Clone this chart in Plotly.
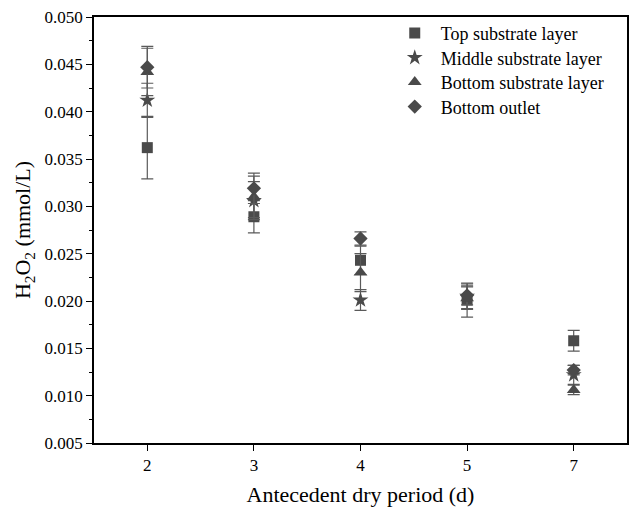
import plotly.graph_objects as go

categories = ["2", "3", "4", "5", "7"]
series_names = ["Top substrate layer", "Middle substrate layer", "Bottom substrate layer", "Bottom outlet"]
top_vals = [0.0362, 0.0289, 0.0243, 0.0201, 0.0158]
top_err = [0.0033, 0.0017, 0.0015, 0.0018, 0.0011]
mid_vals = [0.0412, 0.0306, 0.0201, 0.0205, 0.0122]
mid_err = [0.0018, 0.0020, 0.0011, 0.0013, 0.0010]
bot_vals = [0.0442, 0.0310, 0.0230, 0.0203, 0.0106]
bot_err = [0.0025, 0.0022, 0.0020, 0.0012, 0.0005]
out_vals = [0.0447, 0.0319, 0.0266, 0.0206, 0.0127]
out_err = [0.0022, 0.0016, 0.0007, 0.0010, 0.0005]

symbols = ["square", "star", "triangle-up", "diamond"]
sizes = [11, 12, 12, 11]
values = [top_vals, mid_vals, bot_vals, out_vals]
errors = [top_err, mid_err, bot_err, out_err]
legend_ids = ["legend", "legend2", "legend3", "legend4"]
legend_ys = [0.962, 0.904, 0.847, 0.789]

font_family = "Times New Roman, Liberation Serif, DejaVu Serif, serif"
mcolor = "#4a4a4a"

fig = go.Figure()
for name, sym, sz, v, e, lg in zip(series_names, symbols, sizes, values, errors, legend_ids):
    fig.add_trace(go.Scatter(
        x=categories, y=v, name=name, mode="markers", legend=lg,
        marker=dict(symbol=sym, size=sz, color=mcolor, line=dict(width=0)),
        error_y=dict(type="data", array=e, visible=True, color="#5a5a5a", thickness=1.2, width=6),
    ))

legend_common = dict(x=0.553, xanchor="left", yanchor="middle",
                     font=dict(family=font_family, size=18, color="black"),
                     bgcolor="rgba(0,0,0,0)", borderwidth=0, tracegroupgap=0,
                     itemwidth=42)
layout_legends = {}
for lg, ly in zip(legend_ids, legend_ys):
    layout_legends[lg] = dict(legend_common, y=ly)

fig.update_layout(
    width=634, height=508,
    margin=dict(l=94, r=5, t=17, b=64),
    paper_bgcolor="white", plot_bgcolor="white",
    font=dict(family=font_family, size=17, color="black"),
    showlegend=True,
    xaxis=dict(
        type="category", categoryorder="array", categoryarray=categories,
        range=[-0.5, 4.5],
        title=dict(text="Antecedent dry period (d)", font=dict(family=font_family, size=22), standoff=12),
        showline=True, linecolor="black", linewidth=1.5, mirror=True,
        ticks="outside", ticklen=6, tickwidth=1.2, tickcolor="black",
        showgrid=False, zeroline=False,
        tickfont=dict(family=font_family, size=17),
    ),
    yaxis=dict(
        range=[0.005, 0.050],
        tickvals=[0.005, 0.010, 0.015, 0.020, 0.025, 0.030, 0.035, 0.040, 0.045, 0.050],
        tickformat=".3f",
        title=dict(text="H<sub>2</sub>O<sub>2</sub> (mmol/L)", font=dict(family=font_family, size=22), standoff=8),
        showline=True, linecolor="black", linewidth=1.5, mirror=True,
        ticks="outside", ticklen=6, tickwidth=1.2, tickcolor="black",
        minor=dict(ticks="outside", ticklen=3, tickwidth=1, tickcolor="black", dtick=0.0025, showgrid=False),
        showgrid=False, zeroline=False,
        tickfont=dict(family=font_family, size=17),
    ),
    **layout_legends,
)

fig.write_html("out.html")
